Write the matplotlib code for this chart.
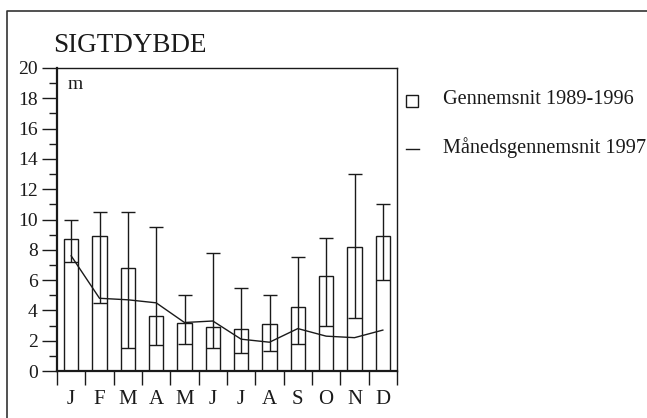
import matplotlib
matplotlib.use("Agg")
import matplotlib.pyplot as plt
from matplotlib.lines import Line2D
import numpy as np

months = ["J", "F", "M", "A", "M", "J", "J", "A", "S", "O", "N", "D"]
mean_8996 = [8.7, 8.9, 6.8, 3.6, 3.2, 2.9, 2.8, 3.1, 4.2, 6.3, 8.2, 8.9]
err_low = [7.2, 4.5, 1.5, 1.7, 1.8, 1.5, 1.2, 1.3, 1.8, 3.0, 3.5, 6.0]
err_high = [10.0, 10.5, 10.5, 9.5, 5.0, 7.8, 5.5, 5.0, 7.5, 8.8, 13.0, 11.0]
monthly_1997 = [7.6, 4.8, 4.7, 4.5, 3.2, 3.3, 2.1, 1.9, 2.8, 2.3, 2.2, 2.7]
yticks = [0, 2, 4, 6, 8, 10, 12, 14, 16, 18, 20]
legend_labels = ["Gennemsnit 1989-1996", "Månedsgennemsnit 1997"]

plt.rcParams['font.family'] = ['Liberation Serif', 'DejaVu Serif']
ink = "#1a1a1a"

fig = plt.figure(figsize=(6.47, 4.18), dpi=100)
ax = fig.add_axes([57/647, 1-371/418, (397-57)/647, (371-68)/418])

x = np.arange(len(months)) + 0.5
mean = np.array(mean_8996)
lo = mean - np.array(err_low)
hi = np.array(err_high) - mean

ax.bar(x, mean, width=0.5, facecolor="white", edgecolor=ink, linewidth=1.0, zorder=2)
ax.errorbar(x, mean, yerr=[lo, hi], fmt="none", ecolor=ink, elinewidth=1.0,
            capsize=5, capthick=1.0, zorder=3)
ax.plot(x, monthly_1997, color=ink, linewidth=1.0, zorder=4)

ax.set_xlim(0, 12)
ax.set_ylim(0, 20)
ax.set_yticks(yticks)
ax.set_yticks(np.arange(0, 21, 1), minor=True)
ax.set_xticks(np.arange(0, 13, 1))
ax.set_xticklabels([])
ax.set_xticks(x, minor=True)
ax.set_xticklabels(months, minor=True)
ax.tick_params(axis='x', which='major', direction='out', length=10, width=1.0, color=ink)
ax.tick_params(axis='x', which='minor', length=0, labelsize=15, pad=14, colors=ink)
ax.tick_params(axis='y', which='major', direction='out', length=11, width=1.0, labelsize=14, pad=3, colors=ink)
ax.tick_params(axis='y', which='minor', direction='out', length=6, width=1.0, color=ink)
for s in ['left', 'bottom']:
    ax.spines[s].set_linewidth(1.6)
for s in ['top', 'right']:
    ax.spines[s].set_linewidth(1.0)
for s in ax.spines.values():
    s.set_color(ink)

ax.text(0.03, 0.975, "m", transform=ax.transAxes, fontsize=14, va="top", ha="left", color=ink)
fig.text(53/647, 1-52/418, "SIGTDYBDE", fontsize=19.5, ha="left", va="baseline", color=ink)

# legend drawn manually in figure coordinates
fig.text(443/647, 1-100/418, legend_labels[0], fontsize=14.6, ha="left", va="center", color=ink)
fig.text(443/647, 1-148/418, legend_labels[1], fontsize=14.6, ha="left", va="center", color=ink)
fig.add_artist(Line2D([412/647], [1-101/418], marker='s', markersize=9, markerfacecolor='white',
                      markeredgecolor=ink, markeredgewidth=1.0, linestyle='none', transform=fig.transFigure))
fig.add_artist(Line2D([406/647, 419/647], [1-149/418, 1-149/418], color=ink, linewidth=1.0,
                      transform=fig.transFigure))

# outer frame
fig.add_artist(Line2D([7/647, 7/647, 1.0], [0.0, 1-11/418, 1-11/418], color="#333333",
                      linewidth=1.2, transform=fig.transFigure))

fig.savefig("out.png", dpi=100)
